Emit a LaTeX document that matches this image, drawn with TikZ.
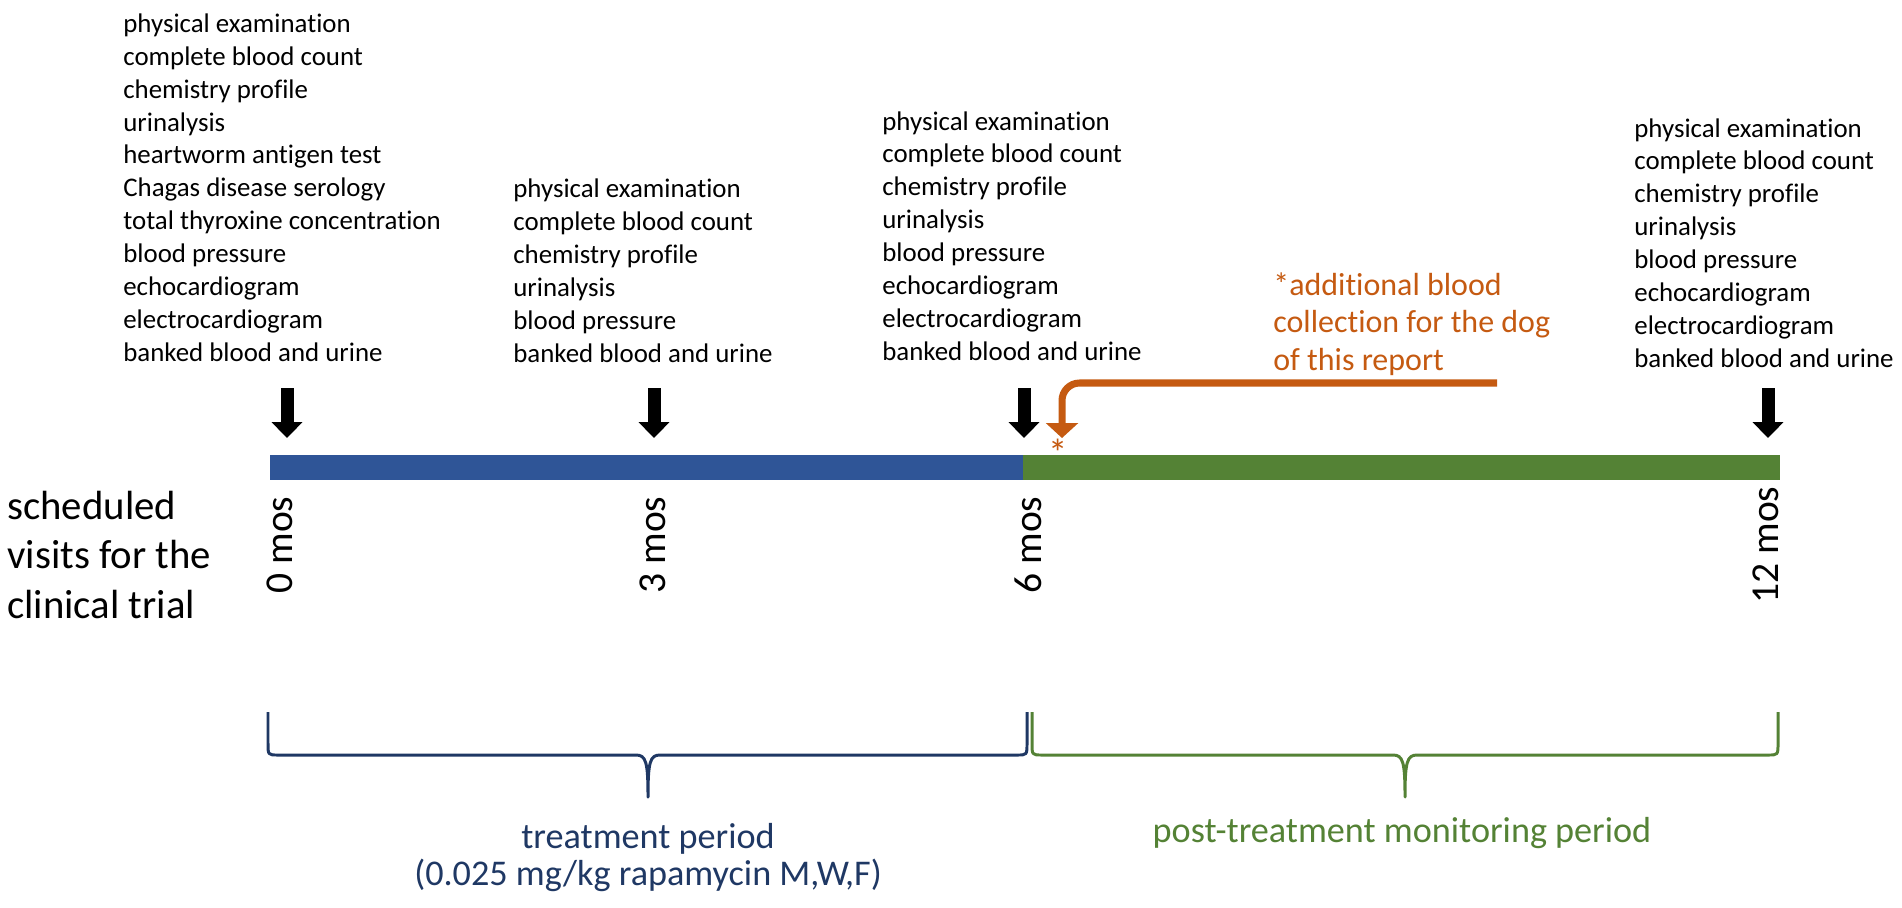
\documentclass[tikz,border=0pt]{standalone}
\usepackage{fontspec}
\setmainfont{Carlito}[Ligatures=NoCommon]
\usetikzlibrary{arrows.meta, positioning}

\definecolor{treatblue}{HTML}{2F5597}
\definecolor{postgreen}{HTML}{548235}
\definecolor{extraorange}{HTML}{C55A11}
\definecolor{bracenavy}{HTML}{1F3864}

\begin{document}
\begin{tikzpicture}[x=0.02cm, y=-0.02cm,
  visitlist/.style={anchor=base west, align=left, inner sep=0pt, font=\fontsize{15.3}{18.7}\selectfont},
  visitarrow/.style={line width=7.4pt, -{Triangle[width=17pt, length=9pt]}},
  moslabel/.style={rotate=90, inner sep=0pt, font=\fontsize{22.5}{27}\selectfont},
  periodlabel/.style={anchor=base, align=center, inner sep=0pt, font=\fontsize{20.6}{21}\selectfont},
  bracepath/.style={line width=1.7pt, line join=round}]

\useasboundingbox (0,0) rectangle (1902,907);

% base of a node = baseline of its last line
\node[anchor=base west, align=left, inner sep=0pt, font=\fontsize{23.2}{27.9}\selectfont] (trial) at (7,618) {scheduled\\visits for the\\clinical trial};

% what is done at each visit
\node[visitlist] (list0) at (123,361) {physical examination\\complete blood count\\chemistry profile\\urinalysis\\heartworm antigen test\\Chagas disease serology\\total thyroxine concentration\\blood pressure\\echocardiogram\\electrocardiogram\\banked blood and urine};
\node[visitlist] (list3) at (513,362) {physical examination\\complete blood count\\chemistry profile\\urinalysis\\blood pressure\\banked blood and urine};
\node[visitlist] (list6) at (882,360) {physical examination\\complete blood count\\chemistry profile\\urinalysis\\blood pressure\\echocardiogram\\electrocardiogram\\banked blood and urine};
\node[visitlist] (list12) at (1634,367) {physical examination\\complete blood count\\chemistry profile\\urinalysis\\blood pressure\\echocardiogram\\electrocardiogram\\banked blood and urine};

% time line
\fill[treatblue] (270,455) rectangle (1023,480);
\fill[postgreen] (1023,455) rectangle (1780,480);

\foreach \m/\x/\lx in {0/287/280, 3/654/653, 6/1024/1028, 12/1768/1766} {
  \coordinate (tick\m) at (\x,438);
  \draw[visitarrow] (tick\m) ++(0,-50) -- (tick\m);
  \node[moslabel] (mos\m) at (\lx,545) {\m\ mos};
}

% extra blood collection
\node[anchor=base west, align=left, inner sep=0pt, text=extraorange, font=\fontsize{18.2}{21.3}\selectfont] (note) at (1273,370) {*additional blood\\collection for the dog\\of this report};
\coordinate (hook) at (1497,383);
\coordinate (extra) at (1062,438);
\draw[extraorange, line width=4pt, rounded corners=10pt, -{Triangle[width=18pt, length=8.5pt]}] (hook) -| (extra);
\node[text=extraorange, anchor=north, inner sep=0pt, font=\fontsize{22}{22}\selectfont] (star) at (1058,439) {*};

% braces for the two periods
\draw[bracepath, bracenavy] (268,712) -- (268,743) .. controls (268,755) .. (278,755) -- (636,755) .. controls (646,755) and (648,762) .. (648,797) .. controls (648,762) and (650,755) .. (660,755) -- (1017,755) .. controls (1027,755) .. (1027,743) -- (1027,712);
\draw[bracepath, postgreen] (1032,712) -- (1032,743) .. controls (1032,755) .. (1042,755) -- (1393,755) .. controls (1403,755) and (1405,762) .. (1405,797) .. controls (1405,762) and (1407,755) .. (1417,755) -- (1768,755) .. controls (1778,755) .. (1778,743) -- (1778,712);

\node[periodlabel, text=bracenavy] (treatlabel) at (648,885) {treatment period\\(0.025 mg/kg rapamycin M,W,F)};
\node[periodlabel, text=postgreen] (postlabel) at (1402,842) {post-treatment monitoring period};

\end{tikzpicture}
\end{document}
